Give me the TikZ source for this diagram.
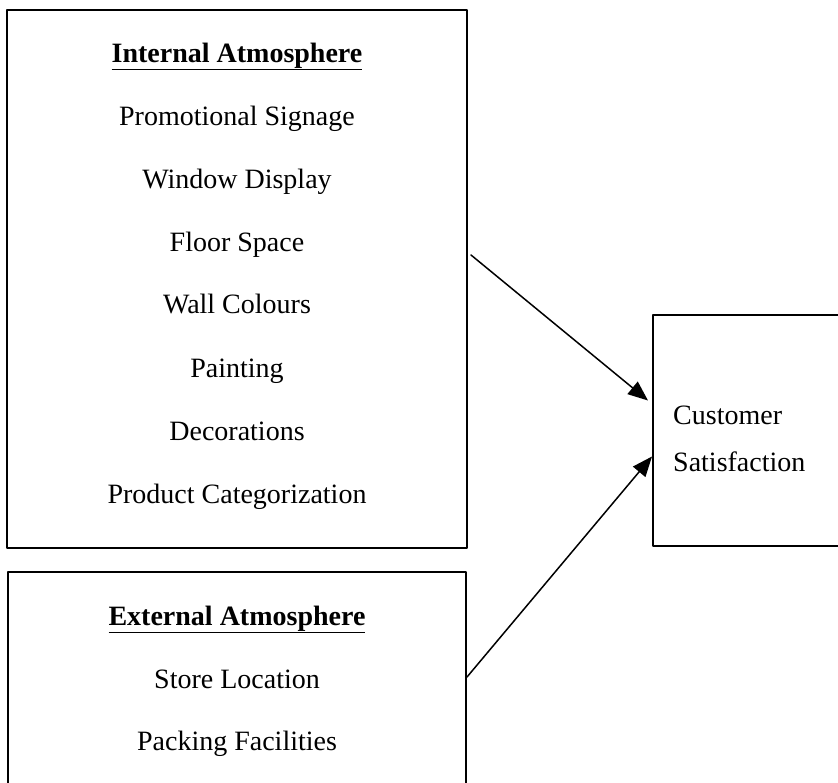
\documentclass[tikz,border=0pt]{standalone}
\usepackage{fontspec}
\setmainfont{Liberation Serif}
\usetikzlibrary{arrows.meta}
\begin{document}
\begin{tikzpicture}[
	x=1pt,y=-1pt,
	>={Triangle[length=20pt,width=16pt]},
	line cap=round,
	line join=round,
	box/.style={draw,line width=2pt,line cap=butt,inner sep=0pt,outer sep=0pt},
	item/.style={anchor=base,inner sep=0pt,font=\fontsize{28}{34}\selectfont},
	head/.style={item,font=\fontsize{28}{34}\selectfont\bfseries}
	]
	\clip (0,0) rectangle (838,782);
	% boxes
	\node[box,minimum width=460pt,minimum height=538pt] (inbox) at (237,279) {};
	\node[box,minimum width=458pt,minimum height=228pt] (exbox) at (237,686) {};
	\node[box,minimum width=227pt,minimum height=231pt] (custbox) at (766.5,430.5) {};
	% internal atmosphere
	\node[head] (inhead) at (237,62) {\underline{Internal Atmosphere}};
	\node[item] (promo) at (237,125) {Promotional Signage};
	\node[item] (window) at (237,188) {Window Display};
	\node[item] (floor) at (237,251) {Floor Space};
	\node[item] (wall) at (237,313) {Wall Colours};
	\node[item] (paint) at (237,377) {Painting};
	\node[item] (decor) at (237,440) {Decorations};
	\node[item] (categ) at (237,503) {Product Categorization};
	% external atmosphere
	\node[head] (exhead) at (237,625) {\underline{External Atmosphere}};
	\node[item] (store) at (237,688) {Store Location};
	\node[item] (pack) at (237,750) {Packing Facilities};
	% customer satisfaction
	\node[item,anchor=base west] (cust) at (673,424) {Customer};
	\node[item,anchor=base west] (satis) at (673,471) {Satisfaction};
	\begin{scope}[->,line width=1.5pt]
		\draw ([shift={(4,-24)}]inbox.east) -- ([shift={(-5,-30)}]custbox.west);
		\draw ([shift={(1,-9)}]exbox.east) -- ([shift={(-1,26)}]custbox.west);
	\end{scope}
\end{tikzpicture}
\end{document}
